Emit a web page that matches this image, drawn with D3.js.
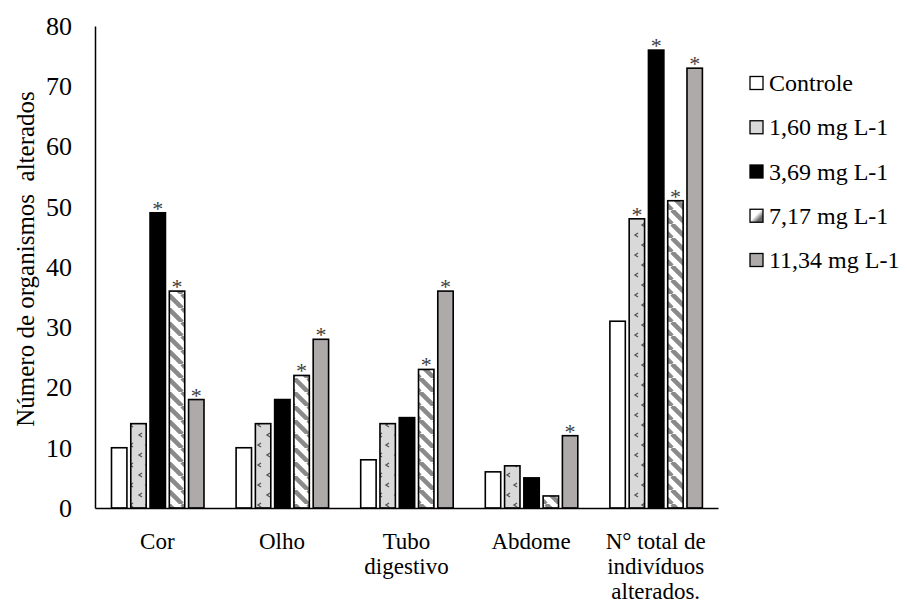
<!DOCTYPE html>
<html>
<head>
<meta charset="utf-8">
<script src="https://cdn.jsdelivr.net/npm/d3@7"></script>
<style>
  html, body { margin: 0; padding: 0; background: #fff; }
  svg { display: block; }
  svg text { font-family: "Liberation Serif", "Times New Roman", Times, serif; }
</style>
</head>
<body>
<svg id="chart" width="907" height="608"></svg>
<script>
const categories = ["Cor", "Olho", "Tubo digestivo", "Abdome", "N° total de indivíduos alterados."];
const categoryLines = [["Cor"], ["Olho"], ["Tubo", "digestivo"], ["Abdome"], ["N° total de", "indivíduos", "alterados."]];
const seriesNames = ["Controle", "1,60 mg L-1", "3,69 mg L-1", "7,17 mg L-1", "11,34 mg L-1"];
const controle = [10, 10, 8, 6, 31];
const s160 = [14, 14, 14, 7, 48];
const s369 = [49, 18, 15, 5, 76];
const s717 = [36, 22, 23, 2, 51];
const s1134 = [18, 28, 36, 12, 73];
const seriesValues = [controle, s160, s369, s717, s1134];
// significance marks (1 = asterisk)
const starCtrl = [0, 0, 0, 0, 0];
const star160 = [0, 0, 0, 0, 1];
const star369 = [1, 0, 0, 0, 1];
const star717 = [1, 1, 1, 0, 1];
const star1134 = [1, 1, 1, 1, 1];
const seriesStars = [starCtrl, star160, star369, star717, star1134];
const yTicks = [0, 10, 20, 30, 40, 50, 60, 70, 80];
const yTitle = "Número de organismos  alterados";
const FONT = "Liberation Serif, Times New Roman, serif";

const svg = d3.select("#chart");
const defs = svg.append("defs");

// pattern: light grey with small dark marks
const p1 = defs.append("pattern").attr("id", "pDots").attr("patternUnits", "userSpaceOnUse")
  .attr("width", 16).attr("height", 20);
p1.append("rect").attr("width", 16).attr("height", 20).attr("fill", "#d9d9d9");
p1.append("path").attr("d", "M5,3 L2,5 L5,7").attr("fill", "none").attr("stroke", "#555").attr("stroke-width", 1.4);
p1.append("path").attr("d", "M14,13 L11,15 L14,17").attr("fill", "none").attr("stroke", "#555").attr("stroke-width", 1.4);

// pattern: white with grey diagonal stripes
const sp = 14;
const p2 = defs.append("pattern").attr("id", "pStripe").attr("patternUnits", "userSpaceOnUse")
  .attr("width", sp).attr("height", sp);
p2.append("rect").attr("width", sp).attr("height", sp).attr("fill", "#fff");
p2.append("path").attr("d", `M0,0 L${sp},${sp} M${-sp},0 L0,${sp} M${sp},0 L${2*sp},${sp}`)
  .attr("stroke", "#8a8a8a").attr("stroke-width", 4.5);

// legend gradient for stripes
const lg = defs.append("linearGradient").attr("id", "gStripe").attr("x1", 0).attr("y1", 0).attr("x2", 1).attr("y2", 1);
lg.append("stop").attr("offset", "0.45").attr("stop-color", "#fff");
lg.append("stop").attr("offset", "0.75").attr("stop-color", "#666");

const fills = ["#ffffff", "url(#pDots)", "#000000", "url(#pStripe)", "#aeaaaa"];
const legendFills = ["#ffffff", "#d9d9d9", "#000000", "url(#gStripe)", "#aeaaaa"];

const y = d3.scaleLinear().domain([0, 80]).range([508, 26]);
const x0 = d3.scaleBand().domain(categories).range([95, 718]).padding(0);
const x1 = d3.scaleBand().domain(seriesNames).range([16.5, 109]).paddingInner(0.2).paddingOuter(0);

// bars
seriesNames.forEach((s, si) => {
  const vals = seriesValues[si];
  const g = svg.append("g");
  g.selectAll("rect").data(categories).join("rect")
    .attr("x", (c) => x0(c) + x1(s))
    .attr("y", (c, i) => y(vals[i]))
    .attr("width", x1.bandwidth())
    .attr("height", (c, i) => y(0) - y(vals[i]))
    .attr("fill", fills[si])
    .attr("stroke", "#000")
    .attr("stroke-width", 1.6);
  g.selectAll("text").data(categories.filter((c, i) => seriesStars[si][i]))
    .join("text")
    .attr("x", (c) => x0(c) + x1(s) + x1.bandwidth() / 2)
    .attr("y", (c) => y(vals[categories.indexOf(c)]) + 3)
    .attr("text-anchor", "middle")
    .attr("font-family", FONT)
    .attr("font-size", 22)
    .attr("fill", "#404040")
    .text("*");
});

// axes
const yAxis = d3.axisLeft(y).tickValues(yTicks).tickSize(0).tickPadding(23);
const ya = svg.append("g").attr("transform", "translate(95,0)").call(yAxis);
ya.attr("font-family", FONT);
ya.select(".domain").attr("stroke", "#000").attr("stroke-width", 1.5);
ya.selectAll("text").attr("font-size", 26).attr("font-family", FONT).attr("fill", "#000");

const xAxis = d3.axisBottom(x0).tickSize(0).tickFormat("");
const xa = svg.append("g").attr("transform", "translate(0,508)").call(xAxis);
xa.select(".domain").attr("stroke", "#000").attr("stroke-width", 1.5);

// category labels
categories.forEach((c, i) => {
  const cx = x0(c) + x0.bandwidth() / 2;
  const t = svg.append("text")
    .attr("x", cx)
    .attr("y", 549)
    .attr("text-anchor", "middle")
    .attr("font-family", FONT)
    .attr("font-size", 23)
    .attr("fill", "#000");
  categoryLines[i].forEach((ln, k) => {
    t.append("tspan").attr("x", cx).attr("dy", k === 0 ? 0 : 25).text(ln);
  });
});

// y title
svg.append("text")
  .attr("transform", `translate(34,${(y(0) + y(80)) / 2 - 8}) rotate(-90)`)
  .attr("text-anchor", "middle")
  .attr("font-family", FONT)
  .attr("font-size", 25)
  .attr("fill", "#000")
  .style("white-space", "pre")
  .text(yTitle);

// legend
const lgY = d3.scalePoint().domain(seriesNames).range([83, 260]);
const leg = svg.append("g");
seriesNames.forEach((s, si) => {
  leg.append("rect").attr("x", 750).attr("y", lgY(s) - 6.5).attr("width", 13).attr("height", 13)
    .attr("fill", legendFills[si]).attr("stroke", "#000").attr("stroke-width", 1.3);
  leg.append("text").attr("x", 769).attr("y", lgY(s) + 8).attr("font-family", FONT)
    .attr("font-size", 24).attr("fill", "#000").text(s);
});
</script>
</body>
</html>
